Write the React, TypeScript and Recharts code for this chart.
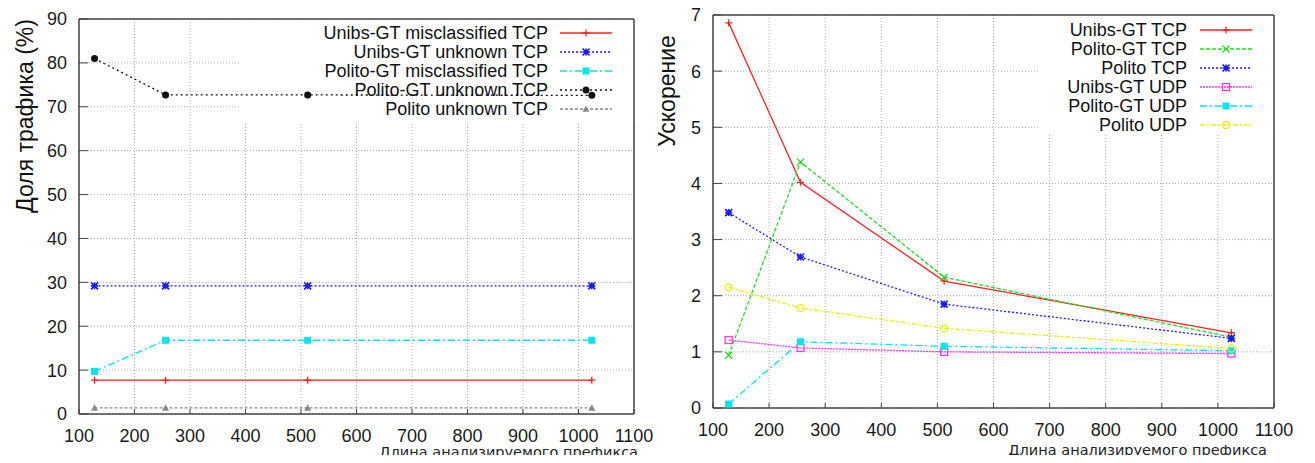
import React from 'react';
import { LineChart, Line, XAxis, YAxis, CartesianGrid, ReferenceArea, Label, Legend } from 'recharts';

// prefix lengths (x values)
const prefixLengths = [128, 256, 512, 1024];
const xTicks = [100, 200, 300, 400, 500, 600, 700, 800, 900, 1000, 1100];
const shareTicks = [0, 10, 20, 30, 40, 50, 60, 70, 80, 90];
const speedupTicks = [0, 1, 2, 3, 4, 5, 6, 7];

// left chart: traffic share, %
const unibsGtMisclassifiedTcp = [7.7, 7.7, 7.7, 7.7];
const unibsGtUnknownTcp = [29.2, 29.2, 29.2, 29.2];
const politoGtMisclassifiedTcp = [9.7, 16.8, 16.8, 16.8];
const politoGtUnknownTcp = [81.0, 72.7, 72.7, 72.6];
const politoUnknownTcp = [1.4, 1.4, 1.4, 1.4];

// right chart: speedup
const unibsGtTcp = [6.86, 4.02, 2.26, 1.34];
const politoGtTcp = [0.94, 4.38, 2.33, 1.26];
const politoTcp = [3.48, 2.69, 1.85, 1.24];
const unibsGtUdp = [1.21, 1.07, 1.0, 0.97];
const politoGtUdp = [0.07, 1.18, 1.1, 1.02];
const politoUdp = [2.15, 1.78, 1.42, 1.06];

type Shape = 'plus' | 'cross' | 'star' | 'square' | 'filledSquare' | 'circle' | 'filledCircle' | 'triangle';

interface Series {
  key: string;
  name: string;
  color: string;
  dash?: string;
  shape: Shape;
  values: number[];
}

const shareSeries: Series[] = [
  { key: 'a', name: 'Unibs-GT misclassified TCP', color: '#ff2020', shape: 'plus', values: unibsGtMisclassifiedTcp },
  { key: 'b', name: 'Unibs-GT unknown TCP', color: '#1a1aff', dash: '2 2', shape: 'star', values: unibsGtUnknownTcp },
  { key: 'c', name: 'Polito-GT misclassified TCP', color: '#00e5ee', dash: '7 3 2 3', shape: 'filledSquare', values: politoGtMisclassifiedTcp },
  { key: 'd', name: 'Polito-GT unknown TCP', color: '#111', dash: '2 3', shape: 'filledCircle', values: politoGtUnknownTcp },
  { key: 'e', name: 'Polito unknown TCP', color: '#888', dash: '3 2', shape: 'triangle', values: politoUnknownTcp },
];

const speedupSeries: Series[] = [
  { key: 'a', name: 'Unibs-GT TCP', color: '#ff2020', shape: 'plus', values: unibsGtTcp },
  { key: 'b', name: 'Polito-GT TCP', color: '#22dd22', dash: '4 2', shape: 'cross', values: politoGtTcp },
  { key: 'c', name: 'Polito TCP', color: '#1a1aff', dash: '2 2', shape: 'star', values: politoTcp },
  { key: 'd', name: 'Unibs-GT UDP', color: '#ff33ff', dash: '2 1', shape: 'square', values: unibsGtUdp },
  { key: 'e', name: 'Polito-GT UDP', color: '#00e5ee', dash: '7 3 2 3', shape: 'filledSquare', values: politoGtUdp },
  { key: 'f', name: 'Polito UDP', color: '#eeee00', dash: '5 2 2 2', shape: 'circle', values: politoUdp },
];

const toRows = (series: Series[]) =>
  prefixLengths.map((p, i) => {
    const row: Record<string, number> = { prefix: p };
    series.forEach((s) => (row[s.key] = s.values[i]));
    return row;
  });

function Marker({ shape, cx, cy, color }: { shape: Shape; cx: number; cy: number; color: string }) {
  const s = 3.5;
  switch (shape) {
    case 'plus':
      return <path d={`M${cx - s},${cy}H${cx + s}M${cx},${cy - s}V${cy + s}`} stroke={color} strokeWidth={1.3} fill="none" />;
    case 'cross':
      return <path d={`M${cx - s},${cy - s}L${cx + s},${cy + s}M${cx - s},${cy + s}L${cx + s},${cy - s}`} stroke={color} strokeWidth={1.3} fill="none" />;
    case 'star':
      return (
        <path
          d={`M${cx - s},${cy}H${cx + s}M${cx},${cy - s}V${cy + s}M${cx - s},${cy - s}L${cx + s},${cy + s}M${cx - s},${cy + s}L${cx + s},${cy - s}`}
          stroke={color} strokeWidth={1.6} fill="none"
        />
      );
    case 'square':
      return <rect x={cx - s} y={cy - s} width={2 * s} height={2 * s} stroke={color} strokeWidth={1.3} fill="none" />;
    case 'filledSquare':
      return <rect x={cx - s} y={cy - s} width={2 * s} height={2 * s} fill={color} />;
    case 'circle':
      return <circle cx={cx} cy={cy} r={s} stroke={color} strokeWidth={1.3} fill="none" />;
    case 'filledCircle':
      return <circle cx={cx} cy={cy} r={s} fill={color} />;
    case 'triangle':
      return <path d={`M${cx},${cy - s}L${cx + s},${cy + s * 0.8}L${cx - s},${cy + s * 0.8}Z`} fill={color} />;
  }
  return null;
}

function KeyBox({ series, textRight, sampleLeft, firstRow, width, height }: {
  series: Series[]; textRight: number; sampleLeft: number; firstRow: number; width: number; height: number;
}) {
  return (
    <svg width={width} height={height} style={{ display: 'block' }}>
      {series.map((s, i) => {
        const y = firstRow + i * 19;
        return (
          <g key={s.key}>
            <text x={textRight} y={y} dy="0.36em" textAnchor="end" fontSize={18} fill="#111"
              fontFamily="'Liberation Sans', Arial, sans-serif">{s.name}</text>
            <line x1={sampleLeft} x2={sampleLeft + 52} y1={y} y2={y} stroke={s.color} strokeWidth={1.3} strokeDasharray={s.dash} />
            <Marker shape={s.shape} cx={sampleLeft + 26} cy={y} color={s.color} />
          </g>
        );
      })}
    </svg>
  );
}

const tickFont = { fontSize: 18, fill: '#1a1a1a', fontFamily: "'Liberation Sans', Arial, sans-serif" };
const axisLine = { stroke: '#444', strokeWidth: 1.5 };

function yTitle(text: string, dx: number, dy: number) {
  return (props: any) => {
    const vb = props.viewBox || { x: 0, y: 0 };
    const x = vb.x + dx;
    const y = vb.y + dy;
    return (
      <text x={x} y={y} transform={`rotate(-90, ${x}, ${y})`} textAnchor="middle" fontSize={23} fill="#111"
        fontFamily="'Liberation Sans', Arial, sans-serif">{text}</text>
    );
  };
}

function xTitle(dx: number, dy: number) {
  return (props: any) => {
    const vb = props.viewBox || { x: 0, y: 0, width: 0 };
    return (
      <text x={vb.x + vb.width + dx} y={vb.y + dy} textAnchor="end" fontSize={14.5} fill="#222"
        fontFamily="'DejaVu Sans', sans-serif">Длина анализируемого префикса</text>
    );
  };
}

function Panel({ series, width, yDomain, yTicks, margin, yWidth, xHeight, title, titleDx, titleDy, xTitleDx, xTitleDy, keyArea, keyProps }: any) {
  const rows = toRows(series);
  return (
    <LineChart width={width} height={463} data={rows} margin={margin}>
      <CartesianGrid stroke="#aaa" strokeDasharray="1 2" />
      <ReferenceArea x1={keyArea.x1} x2={keyArea.x2} y1={keyArea.y1} y2={keyArea.y2} fill="#fff" fillOpacity={1} stroke="none" />
      <XAxis dataKey="prefix" type="number" domain={[100, 1100]} ticks={xTicks} height={xHeight}
        tick={tickFont} axisLine={axisLine} tickLine={{ stroke: '#444' }} tickSize={-5} tickMargin={20}>
        <Label content={xTitle(xTitleDx, xTitleDy)} />
      </XAxis>
      <XAxis xAxisId="top" orientation="top" dataKey="prefix" type="number" domain={[100, 1100]} ticks={xTicks} height={1}
        tick={false} axisLine={axisLine} tickLine={{ stroke: '#444' }} tickSize={-5} />
      <YAxis type="number" domain={yDomain} ticks={yTicks} width={yWidth} tick={tickFont}
        axisLine={axisLine} tickLine={{ stroke: '#444' }} tickSize={-9} tickMargin={21}>
        <Label content={yTitle(title, titleDx, titleDy)} />
      </YAxis>
      <YAxis yAxisId="right" orientation="right" type="number" domain={yDomain} ticks={yTicks} width={1}
        tick={false} axisLine={axisLine} tickLine={{ stroke: '#444' }} tickSize={-9} />
      {series.map((s: Series) => (
        <Line key={s.key} dataKey={s.key} name={s.name} stroke={s.color} strokeWidth={1.3} strokeDasharray={s.dash}
          isAnimationActive={false} legendType="none"
          dot={(p: any) => <Marker key={`${s.key}-${p.index}`} shape={s.shape} cx={p.cx} cy={p.cy} color={s.color} />}
          activeDot={false} />
      ))}
      <Legend layout="vertical" align="center" verticalAlign="middle"
        wrapperStyle={{ top: 0, left: 0, width, height: 463, pointerEvents: 'none' }}
        content={() => <KeyBox series={series} width={width} height={463} {...keyProps} />} />
    </LineChart>
  );
}

export default function App() {
  return (
    <div style={{ position: 'relative', width: 1315, height: 463, margin: -8, background: '#fff', overflow: 'hidden' }}>
      <div style={{ position: 'absolute', left: 0, top: 0 }}>
        <Panel
          series={shareSeries} width={660} yDomain={[0, 90]} yTicks={shareTicks}
          margin={{ top: 18, right: 25, bottom: 0, left: 0 }} yWidth={79} xHeight={49}
          title="Доля трафика (%)" titleDx={33} titleDy={97} xTitleDx={4} xTitleDy={42.5}
          keyArea={{ x1: 388, x2: 1100, y1: 66.5, y2: 90 }}
          keyProps={{ textRight: 548, sampleLeft: 560, firstRow: 33 }}
        />
      </div>
      <div style={{ position: 'absolute', left: 640, top: 0 }}>
        <Panel
          series={speedupSeries} width={667} yDomain={[0, 7]} yTicks={speedupTicks}
          margin={{ top: 14, right: 32, bottom: 0, left: 0 }} yWidth={73} xHeight={55}
          title="Ускорение" titleDx={35} titleDy={76} xTitleDx={-7} xTitleDy={47}
          keyArea={{ x1: 682, x2: 1100, y1: 4.9, y2: 7 }}
          keyProps={{ textRight: 547, sampleLeft: 560, firstRow: 30 }}
        />
      </div>
      <div style={{ position: 'absolute', left: 1307, top: 0, width: 8, height: 463, background: '#000' }} />
    </div>
  );
}
